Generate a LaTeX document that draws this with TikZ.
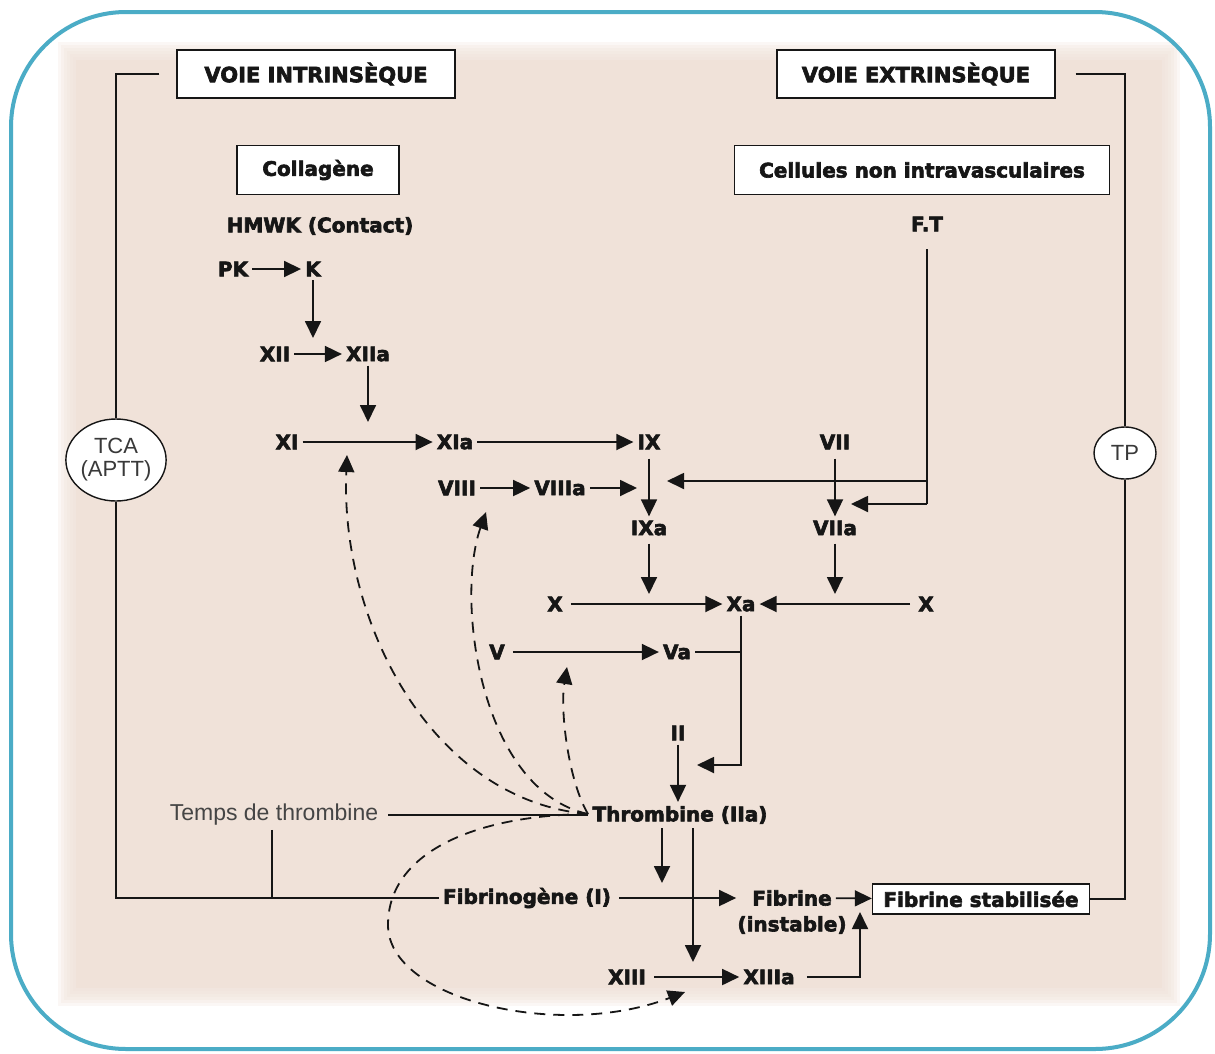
\documentclass[tikz,border=0pt]{standalone}
\usepackage{fontspec}
\setmainfont{DejaVu Sans}[BoldFeatures={FakeBold=3}]
\newfontfamily\helv{Liberation Sans}
\usetikzlibrary{arrows.meta,shapes.geometric}
\definecolor{tealb}{RGB}{75,172,198}
\definecolor{beige}{RGB}{240,226,217}
\definecolor{ink}{RGB}{22,22,22}
\begin{document}
\begin{tikzpicture}[x=1pt,y=-1pt,
  lab/.style={font=\fontsize{20}{24}\selectfont\bfseries, text=ink, inner sep=4pt},
  hdr/.style={draw=ink, fill=white, line width=1.4pt, inner sep=0pt, minimum height=48pt, font=\fontsize{21}{25}\selectfont\bfseries, text=ink},
  bx/.style={draw=ink, fill=white, line width=1.4pt, inner sep=0pt, font=\fontsize{20}{24}\selectfont\bfseries, text=ink},
  ell/.style={ellipse, draw=ink, fill=white, line width=1.4pt, inner sep=0pt, align=center, font=\helv\fontsize{22}{23}\selectfont, text=ink!85},
  ln/.style={draw=ink, line width=1.8pt},
  arr/.style={ln, -{Triangle[length=17pt,width=16pt]}},
  darr/.style={arr, dash pattern=on 11pt off 8pt},
]
\useasboundingbox (0,0) rectangle (1215,1053);
\fill[white] (0,0) rectangle (1215,1053);
% beige panel with soft edges
\foreach \d in {18,15,12,9,6,3}{
  \fill[beige, opacity=0.25] ({76-\d},{60-\d}) rectangle ({1162+\d},{988+\d});
}
\fill[beige] (76,60) rectangle (1162,988);
% teal frame
\draw[tealb, line width=4pt, rounded corners=115pt] (11,12) rectangle (1210,1049);

% headers and boxes
\node[hdr, minimum width=278pt] (VI) at (316,74) {VOIE INTRINSÈQUE};
\node[hdr, minimum width=278pt] (VE) at (916,74) {VOIE EXTRINSÈQUE};
\node[bx, minimum width=162pt, minimum height=49pt] (Coll) at (318,170) {Collagène};
\node[bx, minimum width=375pt, minimum height=49pt] (Cell) at (922,170) {Cellules non intravasculaires};
\node[bx, minimum width=217pt, minimum height=30pt] (FS) at (981,899) {Fibrine stabilisée};

% labels
\node[lab] (HMWK) at (320,226) {HMWK (Contact)};
\node[lab] (FT) at (927,224) {F.T};
\node[lab] (PK) at (233,269) {PK};
\node[lab] (K) at (313,269) {K};
\node[lab] (XII) at (275,354) {XII};
\node[lab] (XIIa) at (368,354) {XIIa};
\node[lab] (XI) at (287,442) {XI};
\node[lab] (XIa) at (455,442) {XIa};
\node[lab] (IX) at (649,442) {IX};
\node[lab] (VII) at (835,442) {VII};
\node[lab] (VIII) at (457,488) {VIII};
\node[lab] (VIIIa) at (560,488) {VIIIa};
\node[lab] (IXa) at (649,528) {IXa};
\node[lab] (VIIa) at (835,528) {VIIa};
\node[lab] (X) at (555,604) {X};
\node[lab] (Xa) at (741,604) {Xa};
\node[lab] (Xr) at (926,604) {X};
\node[lab] (V) at (497,652) {V};
\node[lab] (Va) at (677,652) {Va};
\node[lab] (II) at (678,733) {II};
\node[lab] (Thr) at (680,815) {Thrombine (IIa)};
\node[lab, font=\helv\fontsize{23}{25}\selectfont, text=ink!80] (Temps) at (274,815) {Temps de thrombine};
\node[lab] (Fibg) at (527,898) {Fibrinogène (I)};
\node[lab] (Fib) at (792,898) {Fibrine};
\node[lab] (Inst) at (792,925) {(instable)};
\node[lab] (XIII) at (627,977) {XIII};
\node[lab] (XIIIa) at (769,977) {XIIIa};
\node[ell, minimum width=90pt, minimum height=82pt] (TCA) at (116,460) {TCA\\(APTT)};
\node[ell, minimum width=62pt, minimum height=52pt] (TP) at (1125,453) {TP};

% coordinates
\coordinate (kt) at (313,338);
\coordinate (xit) at (368,422);
\coordinate (ftc) at (927,504);
\coordinate (ftm) at (927,481);
\coordinate (ixin) at (667,481);
\coordinate (viiin) at (851,504);
\coordinate (viiiout) at (637,488);
\coordinate (ixd) at (649,594);
\coordinate (viid) at (835,594);
\coordinate (vaj) at (741,652);
\coordinate (xad) at (741,765);
\coordinate (iit) at (697,765);
\coordinate (tt) at (272,898);
\coordinate (tsa) at (662,883);
\coordinate (tla) at (693,962);
\coordinate (xc) at (860,977);
\coordinate (xu) at (860,912);
\coordinate (ds) at (588,814);
\coordinate (da1) at (347,455);
\coordinate (da2) at (486,512);
\coordinate (da3) at (567,667);
\coordinate (da4) at (685,992);
\coordinate (dm) at (388,925);

% solid connectors
\draw[arr] (PK) -- (K);
\draw[arr] (K) -- (kt);
\draw[arr] (XII) -- (XIIa);
\draw[arr] (XIIa) -- (xit);
\draw[arr] (XI) -- (XIa);
\draw[arr] (XIa) -- (IX);
\draw[arr] (VIII) -- (VIIIa);
\draw[arr] (VIIIa) -- (viiiout);
\draw[arr, shorten <=5pt] (IX) -- (IXa);
\draw[arr, shorten <=5pt] (VII) -- (VIIa);
\draw[ln, shorten <=14pt] (FT) -- (ftc);
\draw[arr] (ftc) -- (viiin);
\draw[arr] (ftm) -- (ixin);
\draw[arr, shorten <=4pt] (IXa) -- (ixd);
\draw[arr, shorten <=4pt] (VIIa) -- (viid);
\draw[arr, shorten <=4pt] (X) -- (Xa);
\draw[arr, shorten <=4pt] (Xr) -- (Xa);
\draw[arr, shorten <=4pt] (V) -- (Va);
\draw[ln] (Va) -- (vaj);
\draw[arr] (Xa) -- (xad) -- (iit);
\draw[arr] (II) -- (II |- Thr.north);
\draw[ln, shorten <=6pt] (Temps) -- (Thr);
\draw[ln] (Temps.south -| tt) -- (tt);
\draw[ln] ([xshift=-17pt]VI.west) -| (TCA.north);
\draw[ln] (TCA.south) |- (Fibg.west);
\draw[ln] ([xshift=20pt]VE.east) -| (TP.north);
\draw[ln] (TP.south) |- (FS.east);
\draw[arr] (Thr.south -| tsa) -- (tsa);
\draw[arr] (Thr.south -| tla) -- (tla);
\draw[arr, shorten <=4pt] (Fibg) -- ([xshift=-12pt]Fib.west);
\draw[arr] (Fib) -- (FS);
\draw[arr, shorten <=4pt] (XIII) -- (XIIIa);
\draw[arr, shorten <=8pt] (XIIIa) -- (xc) -- (xu);

% dashed feedback connectors from thrombin
\draw[darr] (ds) .. controls (430,800) and (340,620) .. (da1);
\draw[darr] (ds) .. controls (480,790) and (455,600) .. (da2);
\draw[darr] (ds) .. controls (568,780) and (560,710) .. (da3);
\draw[darr] (ds) .. controls (480,815) and (388,850) .. (dm) .. controls (388,1000) and (560,1040) .. (da4);
\end{tikzpicture}
\end{document}
